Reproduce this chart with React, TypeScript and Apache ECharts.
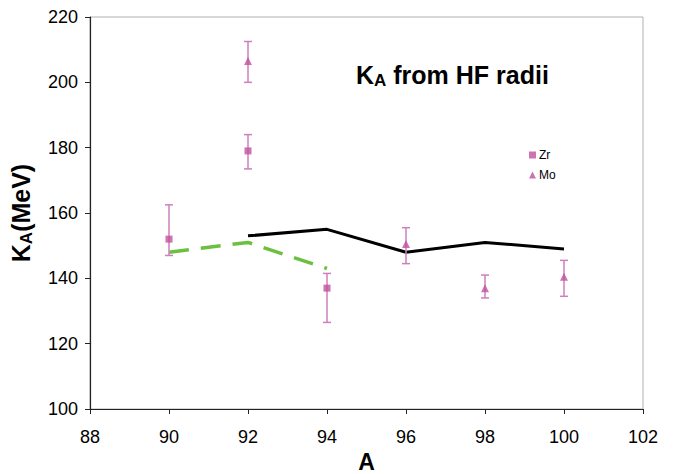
import React, { useEffect, useRef } from "react";
import * as echarts from "echarts";

const xTicks = [88, 90, 92, 94, 96, 98, 100, 102];
const yTicks = [100, 120, 140, 160, 180, 200, 220];

const zrA = [90, 92, 94];
const zrK = [152, 179, 137];
const zrLow = [147, 173.5, 126.5];
const zrHigh = [162.5, 184, 141.5];

const moA = [92, 96, 98, 100];
const moK = [206.5, 150.5, 137, 140.5];
const moLow = [200, 144.5, 134, 134.5];
const moHigh = [212.5, 155.5, 141, 145.5];

const blackA = [92, 94, 96, 98, 100];
const blackK = [153, 155, 148, 151, 149];

const greenA = [90, 92, 94];
const greenK = [148, 151, 143];

const FONT = "'Liberation Sans', Arial, sans-serif";
const PINK = "#c0509f";
const BAR = "#cf7fbd";

function errSeries(xs: number[], lo: number[], hi: number[]) {
  return {
    type: "custom",
    silent: true,
    z: 3,
    data: xs.map((x, i) => [x, lo[i], hi[i]]),
    renderItem: (_p: any, api: any) => {
      const x = api.value(0);
      const a = api.coord([x, api.value(1)]);
      const b = api.coord([x, api.value(2)]);
      const w = 4;
      const style = { stroke: BAR, lineWidth: 1.5 };
      return {
        type: "group",
        children: [
          { type: "line", shape: { x1: a[0], y1: a[1], x2: b[0], y2: b[1] }, style },
          { type: "line", shape: { x1: a[0] - w, y1: a[1], x2: a[0] + w, y2: a[1] }, style },
          { type: "line", shape: { x1: b[0] - w, y1: b[1], x2: b[0] + w, y2: b[1] }, style },
        ],
      };
    },
  };
}

export default function App() {
  const ref = useRef<HTMLDivElement>(null);
  useEffect(() => {
    const chart = echarts.init(ref.current!, null, { renderer: "svg" });
    chart.setOption({
      animation: false,
      backgroundColor: "#ffffff",
      textStyle: { fontFamily: FONT },
      grid: {
        left: 90,
        right: 33,
        top: 17,
        bottom: 65,
        outerBoundsMode: "none",
        containLabel: false,
        show: true,
        borderColor: "#b0b0b0",
        borderWidth: 1,
      },
      title: {
        text: "{k|K}{s|A}{t| from HF radii}",
        left: 351,
        top: 55,
        textStyle: {
          rich: {
            k: { fontSize: 25, fontWeight: "bold", color: "#000", fontFamily: FONT },
            s: { fontSize: 17, fontWeight: "bold", color: "#000", fontFamily: FONT, padding: [12, 0, 0, 0] },
            t: { fontSize: 25, fontWeight: "bold", color: "#000", fontFamily: FONT },
          },
        },
      },
      legend: {
        orient: "vertical",
        left: 524,
        top: 144,
        itemWidth: 7,
        itemHeight: 7,
        itemGap: 8,
        data: ["Zr", "Mo"],
        textStyle: { fontSize: 12, color: "#000", fontFamily: FONT, padding: [0, 0, 0, -2] },
      },
      xAxis: {
        type: "value",
        min: xTicks[0],
        max: xTicks[xTicks.length - 1],
        interval: 2,
        name: "A",
        nameLocation: "middle",
        nameGap: 41,
        nameTextStyle: { fontSize: 23, fontWeight: "bold", color: "#000", fontFamily: FONT },
        axisLine: { lineStyle: { color: "#222", width: 1.2 } },
        axisTick: { show: true, length: 5, lineStyle: { color: "#222" } },
        axisLabel: { fontSize: 18, color: "#000", margin: 19, fontFamily: FONT },
        splitLine: { show: false },
      },
      yAxis: {
        type: "value",
        min: yTicks[0],
        max: yTicks[yTicks.length - 1],
        interval: 20,
        name: "{k|K}{s|A}{t|(MeV)}",
        nameLocation: "middle",
        nameRotate: 90,
        nameGap: 55,
        nameTextStyle: {
          rich: {
            k: { fontSize: 25, fontWeight: "bold", color: "#000", fontFamily: FONT },
            s: { fontSize: 17, fontWeight: "bold", color: "#000", fontFamily: FONT, padding: [12, 0, 0, 0] },
            t: { fontSize: 25, fontWeight: "bold", color: "#000", fontFamily: FONT },
          },
        },
        axisLine: { show: true, lineStyle: { color: "#222", width: 1.2 } },
        axisTick: { show: true, length: 5, lineStyle: { color: "#222" } },
        axisLabel: { fontSize: 18, color: "#000", margin: 12, fontFamily: FONT },
        splitLine: { show: false },
      },
      series: [
        {
          name: "green",
          type: "line",
          data: greenA.map((a, i) => [a, greenK[i]]),
          symbol: "none",
          lineStyle: { color: "#6cc040", width: 3.5, type: [20, 12] },
          z: 2,
        },
        {
          name: "black",
          type: "line",
          data: blackA.map((a, i) => [a, blackK[i]]),
          symbol: "none",
          lineStyle: { color: "#000", width: 3 },
          z: 2,
        },
        errSeries(zrA, zrLow, zrHigh),
        errSeries(moA, moLow, moHigh),
        {
          name: "Zr",
          type: "scatter",
          data: zrA.map((a, i) => [a, zrK[i]]),
          symbol: "rect",
          symbolSize: 7,
          itemStyle: { color: PINK },
          z: 4,
        },
        {
          name: "Mo",
          type: "scatter",
          data: moA.map((a, i) => [a, moK[i]]),
          symbol: "triangle",
          symbolSize: 8,
          itemStyle: { color: PINK },
          z: 4,
        },
      ],
    });
    return () => chart.dispose();
  }, []);
  return (
    <div
      ref={ref}
      style={{ position: "fixed", left: 0, top: 0, width: 676, height: 474, background: "#fff" }}
    />
  );
}
